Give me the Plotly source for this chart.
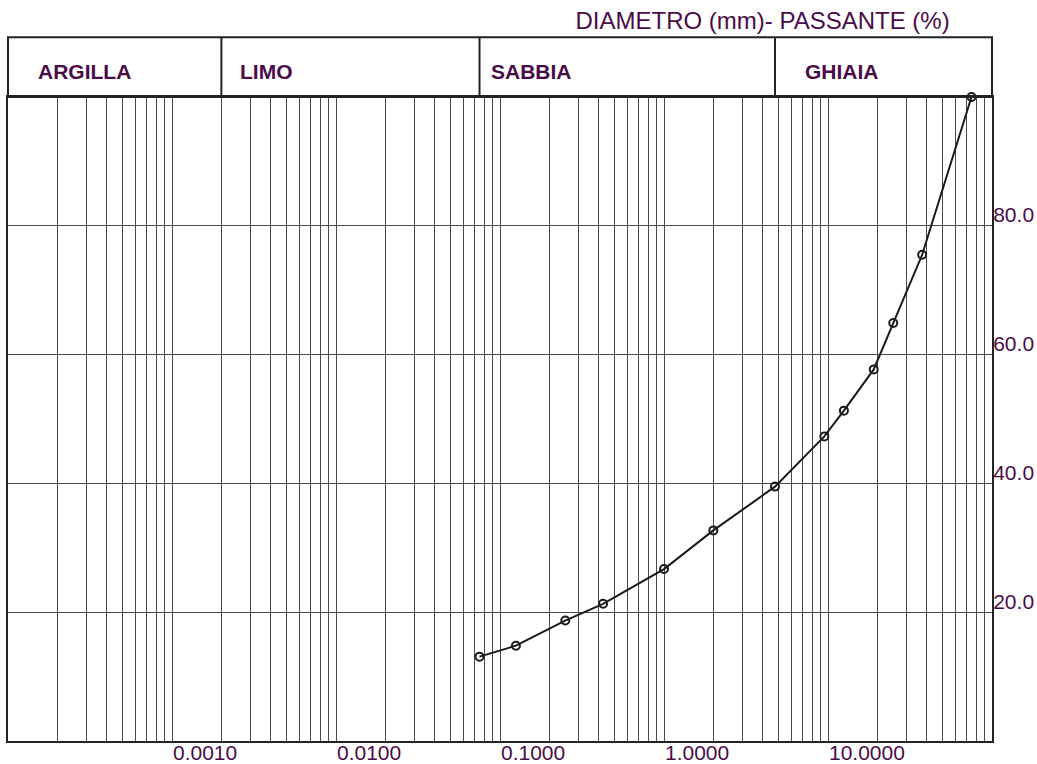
import numpy as np
import plotly.graph_objects as go

# ---------------- data ----------------
diameter_mm = [0.075, 0.125, 0.25, 0.425, 1.0, 2.0, 4.75, 9.5, 12.5, 19.0, 25.0, 37.5, 75.0]
passing_pct = [13.1, 14.8, 18.7, 21.3, 26.7, 32.7, 39.5, 47.3, 51.3, 57.7, 64.9, 75.5, 100.0]

zone_names = ["ARGILLA", "LIMO", "SABBIA", "GHIAIA"]
zone_starts = [0.0001, 0.002, 0.075, 4.75]
zone_label_shift = [28, 17, 9, 28]

x_decades = [1e-4, 1e-3, 1e-2, 1e-1, 1.0, 10.0]
x_multiples = [1, 2, 3, 4, 5, 6, 7, 8, 9]
x_label_map = {1e-3: "0.0010", 1e-2: "0.0100", 1e-1: "0.1000", 1.0: "1.0000", 10.0: "10.0000"}

y_tickvals = [20, 40, 60, 80]
y_ticktext = ["20.0", "40.0", "60.0", "80.0"]

title_text = "DIAMETRO (mm)- PASSANTE (%)"

# ---------------- styling ----------------
TXT = "#4a0c48"
FRAME = "#222222"
GRID = "#4a4a4a"
FONT = "Liberation Sans, Arial, Helvetica, sans-serif"

grid_vals = []
grid_text = []
for d in x_decades:
    for m in x_multiples:
        v = d * m
        grid_vals.append(v)
        grid_text.append(x_label_map.get(d, "") if m == 1 else "")
grid_vals.append(100.0)
grid_text.append("")

fig = go.Figure()
fig.add_trace(go.Scatter(
    x=diameter_mm, y=passing_pct, mode="lines+markers",
    line=dict(color="#1a1a1a", width=2),
    marker=dict(symbol="circle-open", size=8, color="#1a1a1a", line=dict(width=2)),
    cliponaxis=False, showlegend=False, hoverinfo="skip",
))

HEADER_TOP = 1.0927

shapes = [dict(type="rect", xref="paper", yref="paper", x0=0, x1=1, y0=1, y1=HEADER_TOP,
               line=dict(color=FRAME, width=2), layer="above")]
for zs in zone_starts[1:]:
    shapes.append(dict(type="line", xref="x", yref="paper", x0=zs, x1=zs, y0=1, y1=HEADER_TOP,
                       line=dict(color=FRAME, width=2)))

annotations = []
for name, zs, sh in zip(zone_names, zone_starts, zone_label_shift):
    annotations.append(dict(
        text=f"<b>{name}</b>", xref="x", yref="paper", x=np.log10(zs), y=1.039,
        xanchor="left", yanchor="middle", xshift=sh, showarrow=False,
        font=dict(family=FONT, size=21, color=TXT)))

fig.update_layout(
    width=1037, height=764,
    margin=dict(l=8, r=45, t=97, b=23, autoexpand=False),
    paper_bgcolor="white", plot_bgcolor="white",
    template="none",
    font=dict(family=FONT, size=20, color=TXT),
    title=dict(text=title_text, xref="paper", x=0.957, xanchor="right",
               yref="container", y=1 - 21 / 764, yanchor="middle",
               font=dict(family=FONT, size=24, color=TXT)),
    shapes=shapes, annotations=annotations,
    xaxis=dict(type="log", range=[-4, 2], tickvals=grid_vals, ticktext=grid_text,
               showgrid=True, gridcolor=GRID, gridwidth=1, zeroline=False,
               showline=True, linecolor=FRAME, linewidth=2, mirror=True,
               ticks="", ticklabelposition="outside right", ticklabelstandoff=-8,
               automargin=False, tickfont=dict(family=FONT, size=21, color=TXT)),
    yaxis=dict(range=[0, 100], tickvals=y_tickvals, ticktext=y_ticktext, side="right",
               showgrid=True, gridcolor=GRID, gridwidth=1, zeroline=False,
               showline=True, linecolor=FRAME, linewidth=2, mirror=True,
               ticks="", ticklabelposition="outside top", ticklabelstandoff=-5,
               ticklabelshift=4, automargin=False,
               tickfont=dict(family=FONT, size=21, color=TXT)),
)

# remove the browser's default 8px body margin so the 1037x764 figure fills the window
fig.write_html("out.html",
               config={"displayModeBar": False},
               post_script="document.body.style.margin='0';document.body.style.overflow='hidden';")
